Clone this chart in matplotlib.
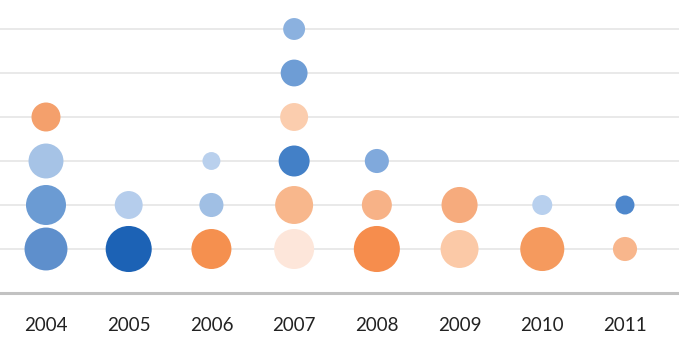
import numpy as np
import matplotlib
matplotlib.use("Agg")
import matplotlib.pyplot as plt

# ----------------------------
# Data
# ----------------------------

years = ["2004", "2005", "2006", "2007", "2008", "2009", "2010", "2011"]

# bubble magnitude (area units), bottom row first
values = {
    "2004": [92, 80, 61, 42],
    "2005": [106, 39],
    "2006": [80, 29, 16],
    "2007": [80, 72, 48, 39, 36, 24],
    "2008": [106, 45, 29],
    "2009": [72, 65],
    "2010": [97, 20],
    "2011": [29, 18],
}

colors = {
    "2004": ["#5e8fcc", "#6b9bd3", "#a6c3e6", "#f4a06c"],
    "2005": ["#1c62b5", "#b5cdec"],
    "2006": ["#f5904f", "#a0bfe4", "#b9d0ed"],
    "2007": ["#fde6da", "#f8b78c", "#4380c7", "#fbcdae", "#6e9dd5", "#8bb1df"],
    "2008": ["#f68d4d", "#f7b287", "#80a9dc"],
    "2009": ["#fbc9a7", "#f6ab7d"],
    "2010": ["#f59a5e", "#b8d0ee"],
    "2011": ["#f8b68c", "#4e87cc"],
}

# ----------------------------
# Plot
# ----------------------------

DPI = 100
fig = plt.figure(figsize=(6.79, 3.61), dpi=DPI)
ax = fig.add_axes([0, 68 / 361, 1, 290.4 / 361])

for i, yr in enumerate(years):
    v = np.array(values[yr], dtype=float)
    levels = np.arange(1, len(v) + 1)
    # area scale: s in points^2
    s = 10.37 * v
    ax.scatter(np.full(len(v), i), levels, s=s, c=colors[yr],
               linewidths=0, zorder=3)

ax.set_xlim(-0.556, 7.653)
ax.set_ylim(0, 6.6)

for lvl in range(1, 7):
    ax.axhline(lvl, color="#e3e3e3", lw=1.1, zorder=1)

for side in ["top", "left", "right"]:
    ax.spines[side].set_visible(False)
ax.spines["bottom"].set_color("#c2c2c2")
ax.spines["bottom"].set_linewidth(2.2)

ax.set_yticks([])
ax.set_xticks(range(len(years)))
ax.set_xticklabels(years, fontsize=13.5, color="#222222",
                   family=["Liberation Sans Narrow", "Lato", "DejaVu Sans"])
ax.tick_params(axis="x", length=0, pad=17)

fig.savefig("out.png", dpi=DPI)
plt.close(fig)
